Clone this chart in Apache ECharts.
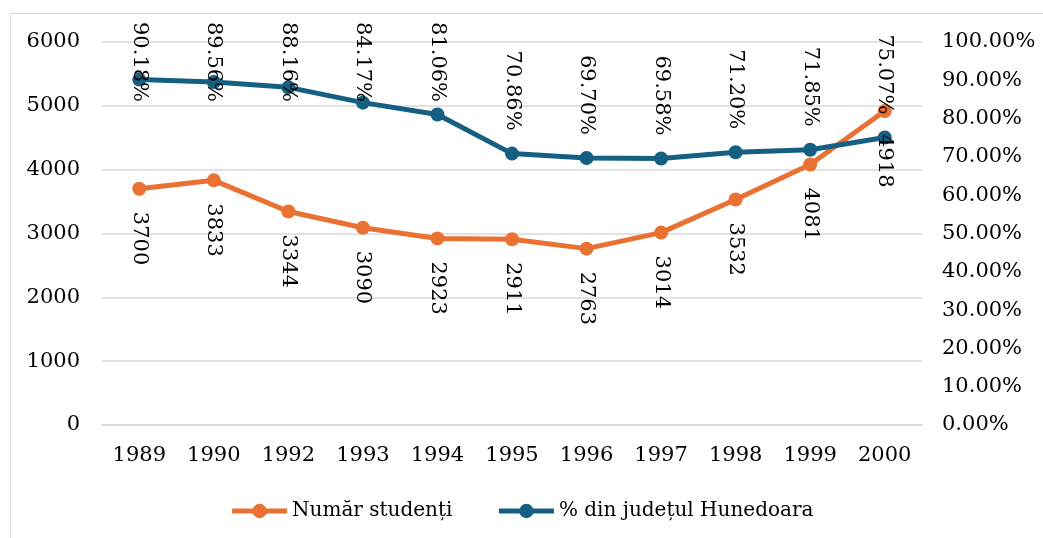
<!DOCTYPE html>
<html>
<head>
<meta charset="utf-8">
<script src="https://cdn.jsdelivr.net/npm/echarts@6/dist/echarts.min.js"></script>
<style>
  html, body { margin: 0; padding: 0; background: #fff; }
  #chart { width: 1043px; height: 538px; }
</style>
</head>
<body>
<div id="chart"></div>
<script>
  // data
  var years = ['1989', '1990', '1992', '1993', '1994', '1995', '1996', '1997', '1998', '1999', '2000'];
  var students = [3700, 3833, 3344, 3090, 2923, 2911, 2763, 3014, 3532, 4081, 4918];
  var percents = [90.18, 89.56, 88.16, 84.17, 81.06, 70.86, 69.70, 69.58, 71.20, 71.85, 75.07];
  var seriesNames = ['Număr studenți', '% din județul Hunedoara'];

  var font = 'DejaVu Serif';
  var orange = '#E97132';
  var blue = '#156082';

  var myChart = echarts.init(document.getElementById('chart'));
  var option = {
    animation: false,
    color: [orange, blue],
    textStyle: { fontFamily: font },
    graphic: [{
      type: 'rect',
      shape: { x: 10.5, y: 13.5, width: 1040, height: 530 },
      style: { fill: 'none', stroke: '#D9D9D9', lineWidth: 1 }
    }],
    grid: { left: 102, right: 121, top: 42, bottom: 113 },
    legend: {
      bottom: 12,
      left: 'center',
      itemWidth: 55,
      itemHeight: 18,
      itemGap: 44,
      lineStyle: { width: 5 },
      textStyle: { fontFamily: font, fontSize: 20, color: '#000' },
      data: seriesNames
    },
    xAxis: {
      type: 'category',
      data: years,
      axisLine: { lineStyle: { color: '#D9D9D9', width: 1.5 } },
      axisTick: { show: false },
      axisLabel: { color: '#000', fontSize: 21, fontFamily: font, margin: 20 }
    },
    yAxis: [{
      type: 'value',
      min: 0, max: 6000, interval: 1000,
      axisLabel: {
        color: '#000', fontSize: 21, fontFamily: font, margin: 22,
        formatter: function (v) { return String(v); }
      },
      splitLine: { lineStyle: { color: '#D9D9D9', width: 1.5 } }
    }, {
      type: 'value',
      min: 0, max: 100, interval: 10,
      alignTicks: false,
      splitLine: { show: false },
      axisLabel: {
        color: '#000', fontSize: 21, fontFamily: font, margin: 20,
        formatter: function (v) { return v.toFixed(2) + '%'; }
      }
    }],
    series: [{
      name: seriesNames[0],
      type: 'line',
      yAxisIndex: 0,
      data: students,
      symbol: 'circle',
      symbolSize: 14,
      lineStyle: { width: 5 },
      label: {
        show: true,
        position: 'bottom',
        distance: 16,
        rotate: -90,
        align: 'left',
        verticalAlign: 'middle',
        color: '#000',
        fontSize: 21,
        fontFamily: font
      }
    }, {
      name: seriesNames[1],
      type: 'line',
      yAxisIndex: 1,
      data: percents,
      symbol: 'circle',
      symbolSize: 14,
      lineStyle: { width: 5 },
      label: {
        show: true,
        position: 'top',
        distance: 16,
        rotate: -90,
        align: 'right',
        verticalAlign: 'middle',
        color: '#000',
        fontSize: 21,
        fontFamily: font,
        formatter: function (p) { return p.value.toFixed(2) + '%'; }
      },
      // keep labels inside the chart area; dx runs along the rotated text (downwards)
      labelLayout: function (params) {
        var r = params.labelRect;
        if (r.y < 22) {
          return { dx: 22 - r.y };
        }
        return {};
      }
    }]
  };
  myChart.setOption(option);
</script>
</body>
</html>
